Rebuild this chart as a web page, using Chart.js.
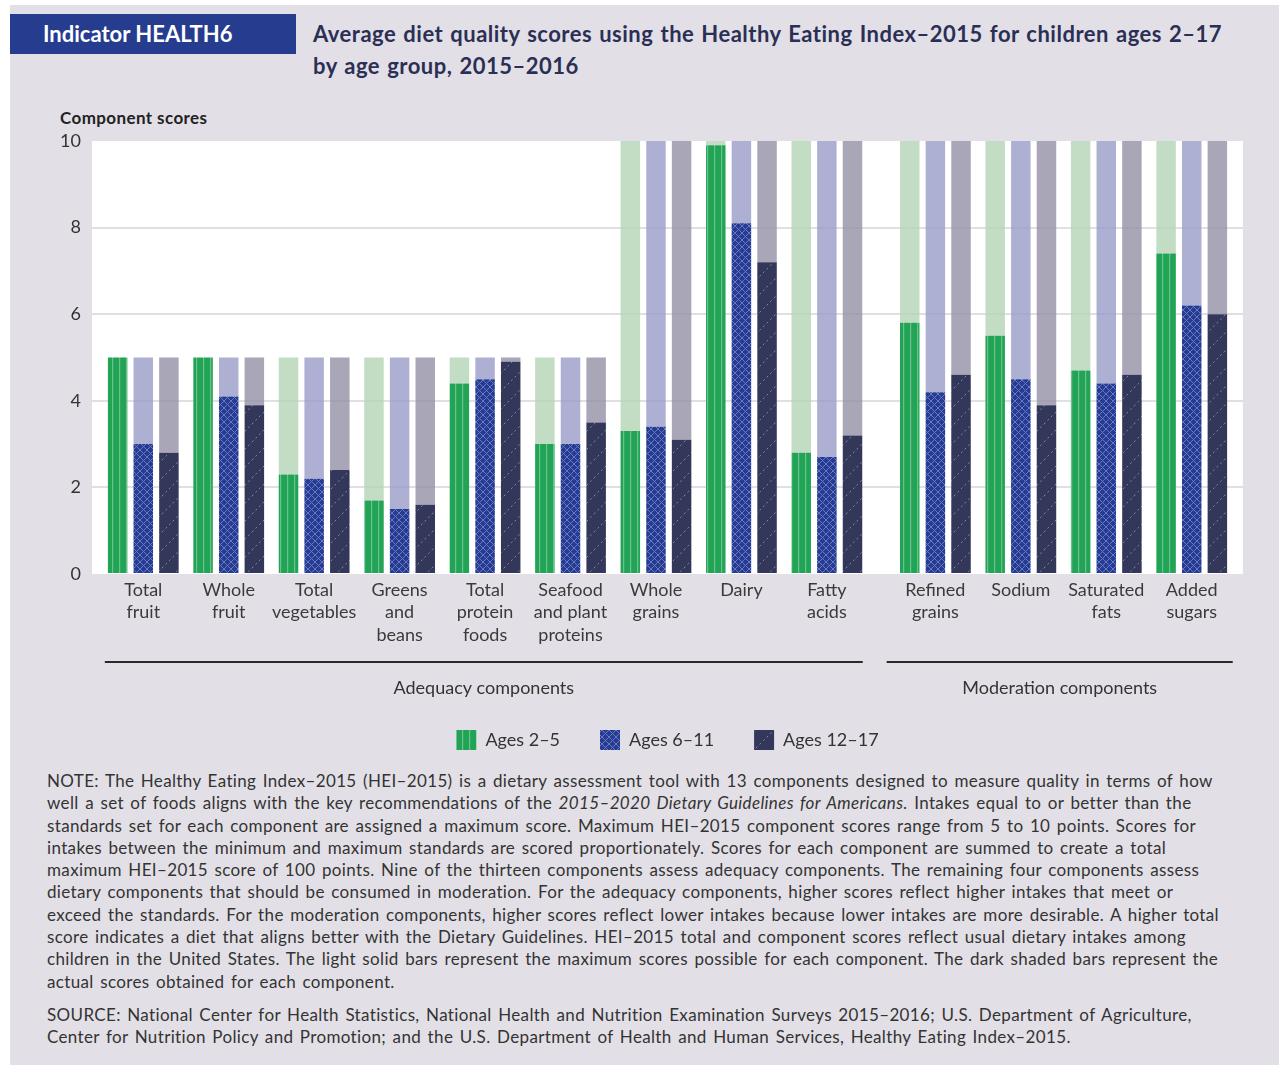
<!DOCTYPE html>
<html>
<head>
<meta charset="utf-8">
<script src="https://cdn.jsdelivr.net/npm/chart.js@4.4.1/dist/chart.umd.min.js"></script>
<style>
  body { margin: 0; width: 1279px; height: 1068px; background: #fff; position: relative; overflow: hidden; font-family: Lato, sans-serif; }
  #panel { position: absolute; left: 10px; top: 5px; width: 1269px; height: 1060px; background: #e2e0e6; }
  #badge { position: absolute; left: 10px; top: 14px; width: 253px; height: 40px; padding-left: 33px; background: #253c8f;
           color: #fff; font-weight: 700; font-size: 22px; line-height: 40px; }
  #title { position: absolute; left: 313px; top: 18px; color: #2b2f55; font-weight: 700; font-size: 22px; line-height: 32px;
           white-space: nowrap; letter-spacing: 0.5px; word-spacing: 1.2px; }
  #ytitle { position: absolute; left: 60px; top: 108px; color: #222; font-weight: 700; font-size: 17px; line-height: 20px; letter-spacing: 0.4px; }
  #chartBox { position: absolute; left: 0; top: 100px; width: 1279px; height: 660px; }
  #notes { position: absolute; left: 47px; top: 770px; color: #333; font-size: 17px; line-height: 22.3px; white-space: nowrap;
           letter-spacing: 0.35px; word-spacing: 1.8px; }
  #notes p { margin: 0 0 11px 0; }
</style>
</head>
<body>
<div id="panel"></div>
<div id="badge">Indicator HEALTH6</div>
<div id="title">Average diet quality scores using the Healthy Eating Index–2015 for children ages 2–17<br>by age group, 2015–2016</div>
<div id="ytitle">Component scores</div>
<div id="chartBox"><canvas id="dietChart" width="1279" height="660"></canvas></div>
<div id="notes">
  <p>NOTE: The Healthy Eating Index–2015 (HEI–2015) is a dietary assessment tool with 13 components designed to measure quality in terms of how<br>
  well a set of foods aligns with the key recommendations of the <i>2015–2020 Dietary Guidelines for Americans.</i> Intakes equal to or better than the<br>
  standards set for each component are assigned a maximum score. Maximum HEI–2015 component scores range from 5 to 10 points. Scores for<br>
  intakes between the minimum and maximum standards are scored proportionately. Scores for each component are summed to create a total<br>
  maximum HEI–2015 score of 100 points. Nine of the thirteen components assess adequacy components. The remaining four components assess<br>
  dietary components that should be consumed in moderation. For the adequacy components, higher scores reflect higher intakes that meet or<br>
  exceed the standards. For the moderation components, higher scores reflect lower intakes because lower intakes are more desirable. A higher total<br>
  score indicates a diet that aligns better with the Dietary Guidelines. HEI–2015 total and component scores reflect usual dietary intakes among<br>
  children in the United States. The light solid bars represent the maximum scores possible for each component. The dark shaded bars represent the<br>
  actual scores obtained for each component.</p>
  <p>SOURCE: National Center for Health Statistics, National Health and Nutrition Examination Surveys 2015–2016; U.S. Department of Agriculture,<br>
  Center for Nutrition Policy and Promotion; and the U.S. Department of Health and Human Services, Healthy Eating Index–2015.</p>
</div>
<script>
// HEI-2015 components, split into adequacy (first 9) and moderation (last 4)
const components = [
  ['Total', 'fruit'], ['Whole', 'fruit'], ['Total', 'vegetables'], ['Greens', 'and', 'beans'],
  ['Total', 'protein', 'foods'], ['Seafood', 'and plant', 'proteins'], ['Whole', 'grains'], ['Dairy'],
  ['Fatty', 'acids'], ['Refined', 'grains'], ['Sodium'], ['Saturated', 'fats'], ['Added', 'sugars']
];
const maxScores  = [5, 5, 5, 5, 5, 5, 10, 10, 10, 10, 10, 10, 10];
const ages2to5   = [5.0, 5.0, 2.3, 1.7, 4.4, 3.0, 3.3, 9.9, 2.8, 5.8, 5.5, 4.7, 7.4];
const ages6to11  = [3.0, 4.1, 2.2, 1.5, 4.5, 3.0, 3.4, 8.1, 2.7, 4.2, 4.5, 4.4, 6.2];
const ages12to17 = [2.8, 3.9, 2.4, 1.6, 4.9, 3.5, 3.1, 7.2, 3.2, 4.6, 3.9, 4.6, 6.0];
const ageLabels  = ['Ages 2–5', 'Ages 6–11', 'Ages 12–17'];
const groups = [
  { name: 'Adequacy components', from: 0, to: 8, padL: 0.45, padR: 0.42 },
  { name: 'Moderation components', from: 9, to: 12, padL: 0.57, padR: 0.48 }
];

// moderation components sit a little apart from the adequacy ones
const moderationGap = 0.27;
const positions = components.map((c, i) => i + (i >= 9 ? moderationGap : 0));

function makePattern(w, h, draw) {
  const c = document.createElement('canvas');
  c.width = w; c.height = h;
  const g = c.getContext('2d');
  draw(g);
  return g.createPattern(c, 'repeat');
}

const greenStripes = makePattern(7, 4, g => {
  g.fillStyle = '#22a457'; g.fillRect(0, 0, 7, 4);
  g.fillStyle = '#6cc08c'; g.fillRect(0, 0, 1.2, 4);
});
const blueLattice = makePattern(7, 7, g => {
  g.fillStyle = '#243d92'; g.fillRect(0, 0, 7, 7);
  g.strokeStyle = '#6b76bf'; g.lineWidth = 1;
  g.beginPath();
  g.moveTo(-1, -1); g.lineTo(8, 8);
  g.moveTo(8, -1); g.lineTo(-1, 8);
  g.stroke();
});
const navyDashes = makePattern(18, 18, g => {
  g.fillStyle = '#33375a'; g.fillRect(0, 0, 18, 18);
  g.strokeStyle = '#8084a8'; g.lineWidth = 1;
  g.setLineDash([2, 3]);
  g.beginPath(); g.moveTo(0, 18); g.lineTo(18, 0); g.stroke();
});

const actualSeries = [ages2to5, ages6to11, ages12to17];
const actualFills = [greenStripes, blueLattice, navyDashes];
const maxFills = ['rgba(180,211,181,0.8)', 'rgba(153,156,200,0.8)', 'rgba(146,144,165,0.8)'];
const stackIds = ['a', 'b', 'c'];

const toPoints = vals => vals.map((v, i) => ({ x: positions[i], y: v }));

const datasets = [];
actualSeries.forEach((vals, k) => {
  datasets.push({ label: ageLabels[k], data: toPoints(vals), backgroundColor: actualFills[k], stack: stackIds[k] });
});
actualSeries.forEach((vals, k) => {
  // light bar on top fills up to the component's maximum score
  datasets.push({ label: ageLabels[k] + ' max', data: toPoints(vals.map((v, i) => maxScores[i] - v)),
                  backgroundColor: maxFills[k], stack: stackIds[k] });
});

const plotBackground = {
  id: 'plotBackground',
  beforeDraw(chart) {
    const { ctx, chartArea: a } = chart;
    ctx.save();
    ctx.fillStyle = '#fff';
    ctx.fillRect(a.left, a.top, a.width, a.height);
    ctx.restore();
  }
};

const groupAxis = {
  id: 'groupAxis',
  afterDraw(chart) {
    const { ctx } = chart;
    const xs = chart.scales.x;
    ctx.save();
    groups.forEach(gr => {
      const x1 = xs.getPixelForValue(positions[gr.from] - gr.padL);
      const x2 = xs.getPixelForValue(positions[gr.to] + gr.padR);
      const y = xs.top + 88;
      ctx.strokeStyle = '#2a2a2a';
      ctx.lineWidth = 2;
      ctx.beginPath(); ctx.moveTo(x1, y); ctx.lineTo(x2, y); ctx.stroke();
      ctx.fillStyle = '#333';
      ctx.font = '18px Lato, sans-serif';
      ctx.textAlign = 'center';
      ctx.textBaseline = 'middle';
      ctx.fillText(gr.name, (x1 + x2) / 2, y + 26);
    });
    ctx.restore();
  }
};

new Chart(document.getElementById('dietChart'), {
  type: 'bar',
  data: { datasets },
  plugins: [plotBackground, groupAxis],
  options: {
    responsive: false,
    animation: false,
    layout: { padding: { left: 10, right: 36, top: 41, bottom: 0 } },
    datasets: { bar: { categoryPercentage: 0.9, barPercentage: 0.76 } },
    scales: {
      x: {
        type: 'linear',
        stacked: true,
        offset: false,
        min: -0.6,
        max: positions[positions.length - 1] + 0.6,
        grid: { display: false },
        border: { display: false },
        afterBuildTicks: scale => { scale.ticks = positions.map(v => ({ value: v })); },
        afterFit: scale => { scale.height = 116; },
        ticks: {
          autoSkip: false,
          maxRotation: 0,
          padding: -3,
          color: '#3a3a3a',
          font: { family: 'Lato', size: 18, lineHeight: 1.24 },
          callback: (value, index) => components[index]
        }
      },
      y: {
        stacked: true,
        min: 0,
        max: 10,
        afterFit: scale => { scale.width = 82; },
        border: { display: false },
        grid: {
          drawTicks: false,
          lineWidth: 2,
          color: c => (c.tick.value === 0 || c.tick.value === 10) ? 'rgba(0,0,0,0)' : '#e0dfe4'
        },
        ticks: { stepSize: 2, padding: 11, color: '#333', font: { family: 'Lato', size: 18 } }
      }
    },
    plugins: {
      tooltip: { enabled: false },
      legend: {
        position: 'bottom',
        fullSize: false,
        labels: {
          boxWidth: 20,
          boxHeight: 20,
          padding: 40,
          color: '#333',
          font: { family: 'Lato', size: 18 },
          filter: item => item.datasetIndex < 3
        }
      }
    }
  }
});
</script>
</body>
</html>
